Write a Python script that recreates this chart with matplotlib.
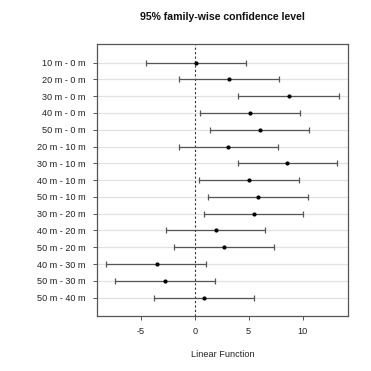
import matplotlib
matplotlib.use("Agg")
import matplotlib.pyplot as plt
import numpy as np

comparisons = ["10 m - 0 m", "20 m - 0 m", "30 m - 0 m", "40 m - 0 m", "50 m - 0 m",
               "20 m - 10 m", "30 m - 10 m", "40 m - 10 m", "50 m - 10 m",
               "30 m - 20 m", "40 m - 20 m", "50 m - 20 m",
               "40 m - 30 m", "50 m - 30 m", "50 m - 40 m"]
diff = [0.12, 3.21, 8.72, 5.16, 6.03, 3.09, 8.60, 5.04, 5.87, 5.50, 1.92, 2.75, -3.56, -2.75, 0.83]
lwr = [-4.57, -1.45, 4.05, 0.46, 1.36, -1.52, 3.96, 0.37, 1.21, 0.83, -2.72, -1.95, -8.23, -7.42, -3.83]
upr = [4.73, 7.82, 13.36, 9.80, 10.60, 7.70, 13.20, 9.65, 10.48, 10.08, 6.52, 7.36, 1.05, 1.86, 5.45]
xticks = [-5, 0, 5, 10]

plt.rcParams['font.family'] = ['Liberation Sans', 'DejaVu Sans']

fig = plt.figure(figsize=(3.71, 3.71), dpi=100)
ax = fig.add_axes([0.2615, 0.148, 0.6765, 0.733])

n = len(comparisons)
y = np.arange(n)
for yi in y:
    ax.axhline(yi, color="#e2e2e2", lw=0.9, zorder=0)
ax.axvline(0, color="#333333", lw=0.8, ls=(0, (2, 2)), zorder=1)
ax.hlines(y, lwr, upr, color="#555555", lw=0.9, zorder=2)
ax.plot(lwr, y, marker="|", ls="none", color="#555555", ms=5, mew=0.9, zorder=2)
ax.plot(upr, y, marker="|", ls="none", color="#555555", ms=5, mew=0.9, zorder=2)
ax.plot(diff, y, marker="o", ls="none", color="black", ms=2.0, zorder=3)

lo, hi = min(lwr), max(upr)
pad = 0.04 * (hi - lo)
ax.set_xlim(lo - pad, hi + pad)
ax.set_ylim(n - 1 + 0.5 + 0.6, -0.5 - 0.6)
ax.set_yticks(y)
ax.set_yticklabels(comparisons)
ax.set_xticks(xticks)
ax.set_xticklabels([str(t) for t in xticks])
ax.tick_params(axis="both", labelsize=6.6, colors="#555555", labelcolor="#222222",
               length=3, width=0.7, direction="out", pad=5)
for s in ax.spines.values():
    s.set_color("#555555")
    s.set_linewidth(0.9)
ax.set_xlabel("Linear Function", fontsize=6.6, color="#222222", labelpad=10)
fig.text(0.6, 0.955, "95% family-wise confidence level", ha="center", va="center",
         fontsize=7.6, fontweight="bold", color="#111111")

fig.savefig("out.png", dpi=100, facecolor="white")
